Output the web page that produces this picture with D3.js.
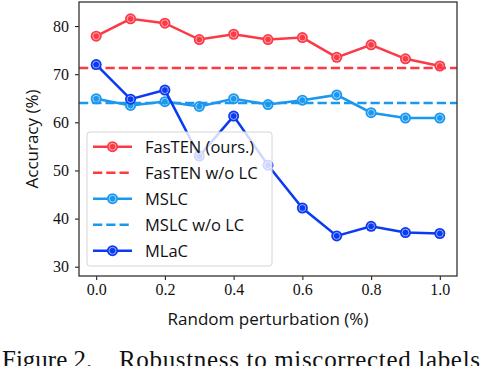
<!DOCTYPE html>
<html>
<head>
<meta charset="utf-8">
<script src="https://cdn.jsdelivr.net/npm/d3@7"></script>
<style>
  body { margin: 0; background: #fff; }
  svg { display: block; }
</style>
</head>
<body>
<div id="chart"></div>
<script>
// data
var xs = [0.0, 0.1, 0.2, 0.3, 0.4, 0.5, 0.6, 0.7, 0.8, 0.9, 1.0];
var fasten = [77.9, 81.5, 80.6, 77.2, 78.3, 77.2, 77.6, 73.5, 76.1, 73.2, 71.7];
var fastenNoLC = 71.3;
var mslc = [64.9, 63.5, 64.3, 63.3, 64.9, 63.7, 64.6, 65.7, 62.0, 60.9, 60.9];
var mslcNoLC = 64.0;
var mlac = [72.0, 64.8, 66.7, 53.0, 61.3, 51.1, 42.2, 36.4, 38.4, 37.1, 36.9];
var xTicks = [0.0, 0.2, 0.4, 0.6, 0.8, 1.0];
var yTicks = [30, 40, 50, 60, 70, 80];

var RED = "#fb3a46", LBLUE = "#1a98f0", BLUE = "#0a3af2";

var width = 480, height = 366;
var margin = {top: 2, right: 23, bottom: 90, left: 79};

var svg = d3.select("#chart").append("svg")
    .attr("width", width)
    .attr("height", height);

var x = d3.scaleLinear().domain([-0.05, 1.05]).range([margin.left, width - margin.right]);
var y = d3.scaleLinear().domain([28.07, 85]).range([height - margin.bottom, margin.top]);

var serif = "'Liberation Serif', 'DejaVu Serif', serif";
var sans = "'Open Sans', 'DejaVu Sans', sans-serif";

// axes
var xAxis = svg.append("g")
  .attr("transform", "translate(0," + (height - margin.bottom) + ")")
  .call(d3.axisBottom(x).tickValues(xTicks).tickFormat(d3.format(".1f")).tickSize(4).tickPadding(4));
var yAxis = svg.append("g")
  .attr("transform", "translate(" + margin.left + ",0)")
  .call(d3.axisLeft(y).tickValues(yTicks).tickSize(4).tickPadding(6));
[xAxis, yAxis].forEach(function(g){
  g.select(".domain").remove();
  g.selectAll(".tick line").attr("stroke", "#222").attr("stroke-width", 1.1);
  g.selectAll(".tick text").attr("font-family", serif).attr("font-size", 16).attr("fill", "#111");
});

var line = d3.line().x(function(d){ return x(d[0]); }).y(function(d){ return y(d[1]); });

function drawSeries(vals, color){
  var pts = xs.map(function(v, i){ return [v, vals[i]]; });
  svg.append("path").datum(pts)
    .attr("d", line).attr("fill", "none")
    .attr("stroke", color).attr("stroke-width", 2.5);
  var g = svg.append("g");
  g.selectAll("circle.m").data(pts).enter().append("circle")
    .attr("cx", function(d){ return x(d[0]); })
    .attr("cy", function(d){ return y(d[1]); })
    .attr("r", 5.5).attr("fill", color);
  g.selectAll("circle.r").data(pts).enter().append("circle")
    .attr("cx", function(d){ return x(d[0]); })
    .attr("cy", function(d){ return y(d[1]); })
    .attr("r", 3.4).attr("fill", "none")
    .attr("stroke", "#fff").attr("stroke-opacity", 0.7).attr("stroke-width", 0.8);
}

function drawConst(v, color){
  svg.append("line")
    .attr("x1", x(-0.05)).attr("x2", x(1.05))
    .attr("y1", y(v)).attr("y2", y(v))
    .attr("stroke", color).attr("stroke-width", 2.5)
    .attr("stroke-dasharray", "9.25,4");
}

drawSeries(fasten, RED);
drawConst(fastenNoLC, RED);
drawSeries(mslc, LBLUE);
drawConst(mslcNoLC, LBLUE);
drawSeries(mlac, BLUE);

// frame
svg.append("rect")
  .attr("x", margin.left).attr("y", margin.top)
  .attr("width", width - margin.left - margin.right)
  .attr("height", height - margin.top - margin.bottom)
  .attr("fill", "none").attr("stroke", "#333").attr("stroke-width", 1.3);

// legend
var legendItems = [
  {name: "FasTEN (ours.)", color: RED, dash: false},
  {name: "FasTEN w/o LC", color: RED, dash: true},
  {name: "MSLC", color: LBLUE, dash: false},
  {name: "MSLC w/o LC", color: LBLUE, dash: true},
  {name: "MLaC", color: BLUE, dash: false}
];
var lg = svg.append("g");
lg.append("rect")
  .attr("x", 87).attr("y", 132).attr("width", 185).attr("height", 134)
  .attr("rx", 3).attr("fill", "#fff").attr("fill-opacity", 0.8)
  .attr("stroke", "#d6d6d6").attr("stroke-width", 1);
legendItems.forEach(function(it, i){
  var cy = 146.7 + i * 26;
  lg.append("line").attr("x1", 93).attr("x2", 132).attr("y1", cy).attr("y2", cy)
    .attr("stroke", it.color).attr("stroke-width", 2.5)
    .attr("stroke-dasharray", it.dash ? "9.25,4" : null);
  if (!it.dash) {
    lg.append("circle").attr("cx", 112.5).attr("cy", cy).attr("r", 5.5).attr("fill", it.color);
    lg.append("circle").attr("cx", 112.5).attr("cy", cy).attr("r", 3.4).attr("fill", "none")
      .attr("stroke", "#fff").attr("stroke-opacity", 0.7).attr("stroke-width", 0.8);
  }
  lg.append("text").attr("x", 145).attr("y", cy + 6)
    .attr("font-family", sans).attr("font-size", 16.5).attr("fill", "#111")
    .text(it.name);
});

// axis labels
svg.append("text")
  .attr("x", (margin.left + width - margin.right) / 2).attr("y", 325)
  .attr("text-anchor", "middle").attr("font-family", sans).attr("font-size", 17).attr("fill", "#111")
  .text("Random perturbation (%)");
svg.append("text")
  .attr("transform", "translate(38," + ((margin.top + height - margin.bottom) / 2) + ") rotate(-90)")
  .attr("text-anchor", "middle").attr("font-family", sans).attr("font-size", 17).attr("fill", "#111")
  .text("Accuracy (%)");

// caption (cut off at the bottom edge, as in the source image)
var cap = svg.append("text")
  .attr("y", 368)
  .attr("font-family", serif).attr("font-size", 25).attr("fill", "#111");
cap.append("tspan").attr("x", 2).text("Figure 2.");
cap.append("tspan").attr("x", 119).attr("textLength", 361).attr("lengthAdjust", "spacing")
  .text("Robustness to miscorrected labels");
</script>
</body>
</html>
